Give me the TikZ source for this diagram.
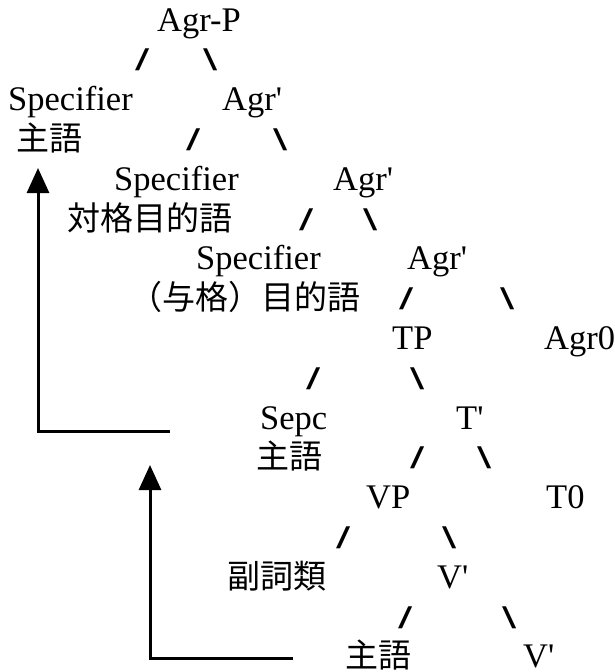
\documentclass[tikz,border=0pt]{standalone}
\usepackage{fontspec}
\usepackage{graphicx}
\newfontfamily\romfont{Liberation Serif}
\newfontfamily\jpfont{Noto Sans CJK JP}
\newfontfamily\slashfont{Liberation Sans}
\usetikzlibrary{arrows.meta}

\newcommand{\slashl}{\scalebox{1.7}[1]{/}}
\newcommand{\slashr}{\scalebox{1.7}[1]{\textbackslash}}

\tikzset{
  lat/.style={anchor=base west, inner sep=0pt, font=\romfont\fontsize{34.5}{40}\selectfont},
  jp/.style={anchor=base west, inner sep=0pt, font=\jpfont\fontsize{33}{40}\selectfont},
  br/.style={anchor=base west, inner sep=0pt, font=\slashfont\fontsize{30}{40}\selectfont},
  moveline/.style={line width=3pt, -{Triangle[width=22pt,length=25pt]}}
}

\begin{document}
\begin{tikzpicture}[x=1pt,y=-1pt]
    \useasboundingbox (0,0) rectangle (614,672);
    % Agr-P
    \node[lat] (agrp) at (157,31) {Agr-P};
    \node[br] (b1l) at (135,70.8) {\slashl}; \node[br] (b1r) at (203,70.8) {\slashr};
    \node[lat] (spec1) at (8,110.6) {Specifier}; \node[lat] (agr1) at (222,110.6) {Agr'};
    \node[jp] (subj1) at (16,150.4) {主語};
    \node[br] (b2l) at (186,150.4) {\slashl}; \node[br] (b2r) at (273,150.4) {\slashr};
    % second Agr'
    \node[lat] (spec2) at (114,190.2) {Specifier}; \node[lat] (agr2) at (333,190.2) {Agr'};
    \node[jp] (dobj) at (67,230) {対格目的語};
    \node[br] (b3l) at (299,230) {\slashl}; \node[br] (b3r) at (363,230) {\slashr};
    % third Agr'
    \node[lat] (spec3) at (196,269.8) {Specifier}; \node[lat] (agr3) at (407,269.8) {Agr'};
    \node[jp] (iobj) at (129,309.6) {（与格）目的語};
    \node[br] (b4l) at (399,309.6) {\slashl}; \node[br] (b4r) at (500,309.6) {\slashr};
    \node[lat] (tp) at (392,349.4) {TP}; \node[lat] (agrzero) at (544,349.4) {Agr0};
    % TP
    \node[br] (b5l) at (306,389.2) {\slashl}; \node[br] (b5r) at (410,389.2) {\slashr};
    \node[lat] (sepc) at (260,429) {Sepc}; \node[lat] (tbar) at (456,429) {T'};
    \node[jp] (subj2) at (256,468.8) {主語};
    \node[br] (b6l) at (410,468.8) {\slashl}; \node[br] (b6r) at (477,468.8) {\slashr};
    \node[lat] (vp) at (366,508.6) {VP}; \node[lat] (tzero) at (546,508.6) {T0};
    % VP
    \node[br] (b7l) at (336,548.4) {\slashl}; \node[br] (b7r) at (442,548.4) {\slashr};
    \node[jp] (adv) at (227,588.2) {副詞類}; \node[lat] (vbar1) at (437,588.2) {V'};
    \node[br] (b8l) at (398,628) {\slashl}; \node[br] (b8r) at (502,628) {\slashr};
    \node[jp] (subj3) at (345,667.8) {主語}; \node[lat] (vbar2) at (523,667.8) {V'};
    % movement arrows
    \coordinate (m1s) at (170,431); \coordinate (m1c) at (38,431); \coordinate (m1t) at (38,168);
    \draw[moveline] (m1s) -- (m1c) -- (m1t);
    \coordinate (m2s) at (293,658); \coordinate (m2c) at (150,658); \coordinate (m2t) at (150,465);
    \draw[moveline] (m2s) -- (m2c) -- (m2t);
\end{tikzpicture}
\end{document}
